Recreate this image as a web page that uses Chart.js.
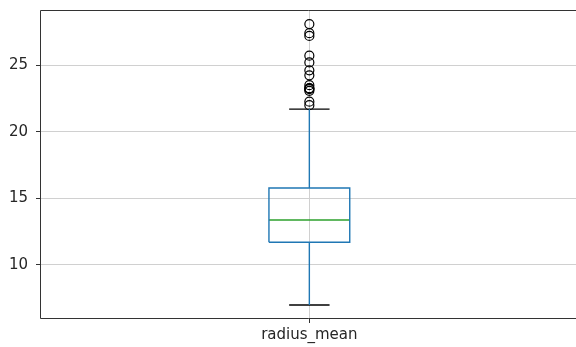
<!DOCTYPE html>
<html>
<head>
<meta charset="utf-8">
<script src="https://cdn.jsdelivr.net/npm/chart.js@4.4.0/dist/chart.umd.min.js"></script>
<style>
  html, body { margin: 0; padding: 0; background: #fff; }
  #wrap { width: 576px; height: 347px; }
</style>
</head>
<body>
<div id="wrap"><canvas id="box" width="576" height="347"></canvas></div>
<script>
// box plot summary for radius_mean
const category = 'radius_mean';
const q1 = 11.70;
const median = 13.37;
const q3 = 15.78;
const whiskerLow = 6.981;
const whiskerHigh = 21.71;
const outliers = [22.01, 22.27, 23.09, 23.21, 23.27, 23.29, 23.51, 24.25, 24.63, 25.22, 25.73, 27.22, 27.42, 28.11];
const yTicks = [10, 15, 20, 25];

// matplotlib-like widths: box 0.15, caps half that
// the original picture is cut just before the right edge of the axes, so x stops a bit short of 1.5
const pos = 1;
const halfBox = 0.075;
const halfCap = 0.0375;
const xMin = 0.5;
const xMax = 1.495;

const blue = '#1f77b4';
const green = '#2ca02c';

function seg(x0, y0, x1, y1) {
    return [{ x: x0, y: y0 }, { x: x1, y: y1 }];
}

const lineBase = { showLine: true, pointRadius: 0, borderWidth: 1.4, fill: false };

const datasets = [
    { ...lineBase, label: 'box', borderColor: blue, data: [
        { x: pos - halfBox, y: q1 }, { x: pos + halfBox, y: q1 },
        { x: pos + halfBox, y: q3 }, { x: pos - halfBox, y: q3 },
        { x: pos - halfBox, y: q1 }
    ] },
    { ...lineBase, label: 'median', borderColor: green, data: seg(pos - halfBox, median, pos + halfBox, median) },
    { ...lineBase, label: 'whisker low', borderColor: blue, data: seg(pos, q1, pos, whiskerLow) },
    { ...lineBase, label: 'whisker high', borderColor: blue, data: seg(pos, q3, pos, whiskerHigh) },
    { ...lineBase, label: 'cap low', borderColor: '#000', data: seg(pos - halfCap, whiskerLow, pos + halfCap, whiskerLow) },
    { ...lineBase, label: 'cap high', borderColor: '#000', data: seg(pos - halfCap, whiskerHigh, pos + halfCap, whiskerHigh) },
    { label: 'outliers', showLine: false, data: outliers.map(v => ({ x: pos, y: v })),
      pointStyle: 'circle', pointRadius: 4.5, borderColor: '#000', borderWidth: 1.2,
      backgroundColor: 'rgba(0,0,0,0)' }
];

// left, top and bottom spines (right one is outside the crop)
const spines = {
    id: 'spines',
    afterDraw(chart) {
        const a = chart.chartArea;
        const ctx = chart.ctx;
        const l = Math.round(a.left) + 0.5;
        const t = Math.round(a.top) + 0.5;
        const b = Math.round(a.bottom) - 0.5;
        ctx.save();
        ctx.strokeStyle = '#333';
        ctx.lineWidth = 1;
        ctx.beginPath();
        ctx.moveTo(a.right, t);
        ctx.lineTo(l, t);
        ctx.lineTo(l, b);
        ctx.lineTo(a.right, b);
        ctx.stroke();
        ctx.restore();
    }
};

// drop the extra room Chart.js keeps for half tick labels
function noEdgePadding(axis) {
    axis.paddingTop = 0;
    axis.paddingBottom = 0;
    axis.paddingLeft = 0;
    axis.paddingRight = 0;
}

const dataMin = Math.min(whiskerLow, ...outliers);
const dataMax = Math.max(whiskerHigh, ...outliers);
const margin = (dataMax - dataMin) * 0.05;

new Chart(document.getElementById('box'), {
    type: 'scatter',
    data: { datasets },
    plugins: [spines],
    options: {
        responsive: false,
        animation: false,
        layout: { autoPadding: false, padding: { top: 10, right: 0, left: 0, bottom: 0 } },
        plugins: { legend: { display: false }, tooltip: { enabled: false } },
        scales: {
            x: {
                type: 'linear',
                min: xMin,
                max: xMax,
                afterBuildTicks: axis => { axis.ticks = [{ value: pos }]; },
                afterFit: axis => { axis.height = 28; noEdgePadding(axis); },
                ticks: {
                    callback: () => category,
                    font: { family: 'DejaVu Sans', size: 15 },
                    color: '#262626',
                    padding: 3,
                    maxRotation: 0
                },
                grid: { color: '#d0d0d0', lineWidth: 1, tickLength: 4, tickColor: '#333' },
                border: { display: false }
            },
            y: {
                min: dataMin - margin,
                max: dataMax + margin,
                afterBuildTicks: axis => { axis.ticks = yTicks.map(v => ({ value: v })); },
                afterFit: axis => { axis.width = 40; noEdgePadding(axis); },
                ticks: {
                    font: { family: 'DejaVu Sans', size: 15 },
                    color: '#262626',
                    padding: 8
                },
                grid: { color: '#d0d0d0', lineWidth: 1, tickLength: 4, tickColor: '#333' },
                border: { display: false }
            }
        }
    }
});
</script>
</body>
</html>
